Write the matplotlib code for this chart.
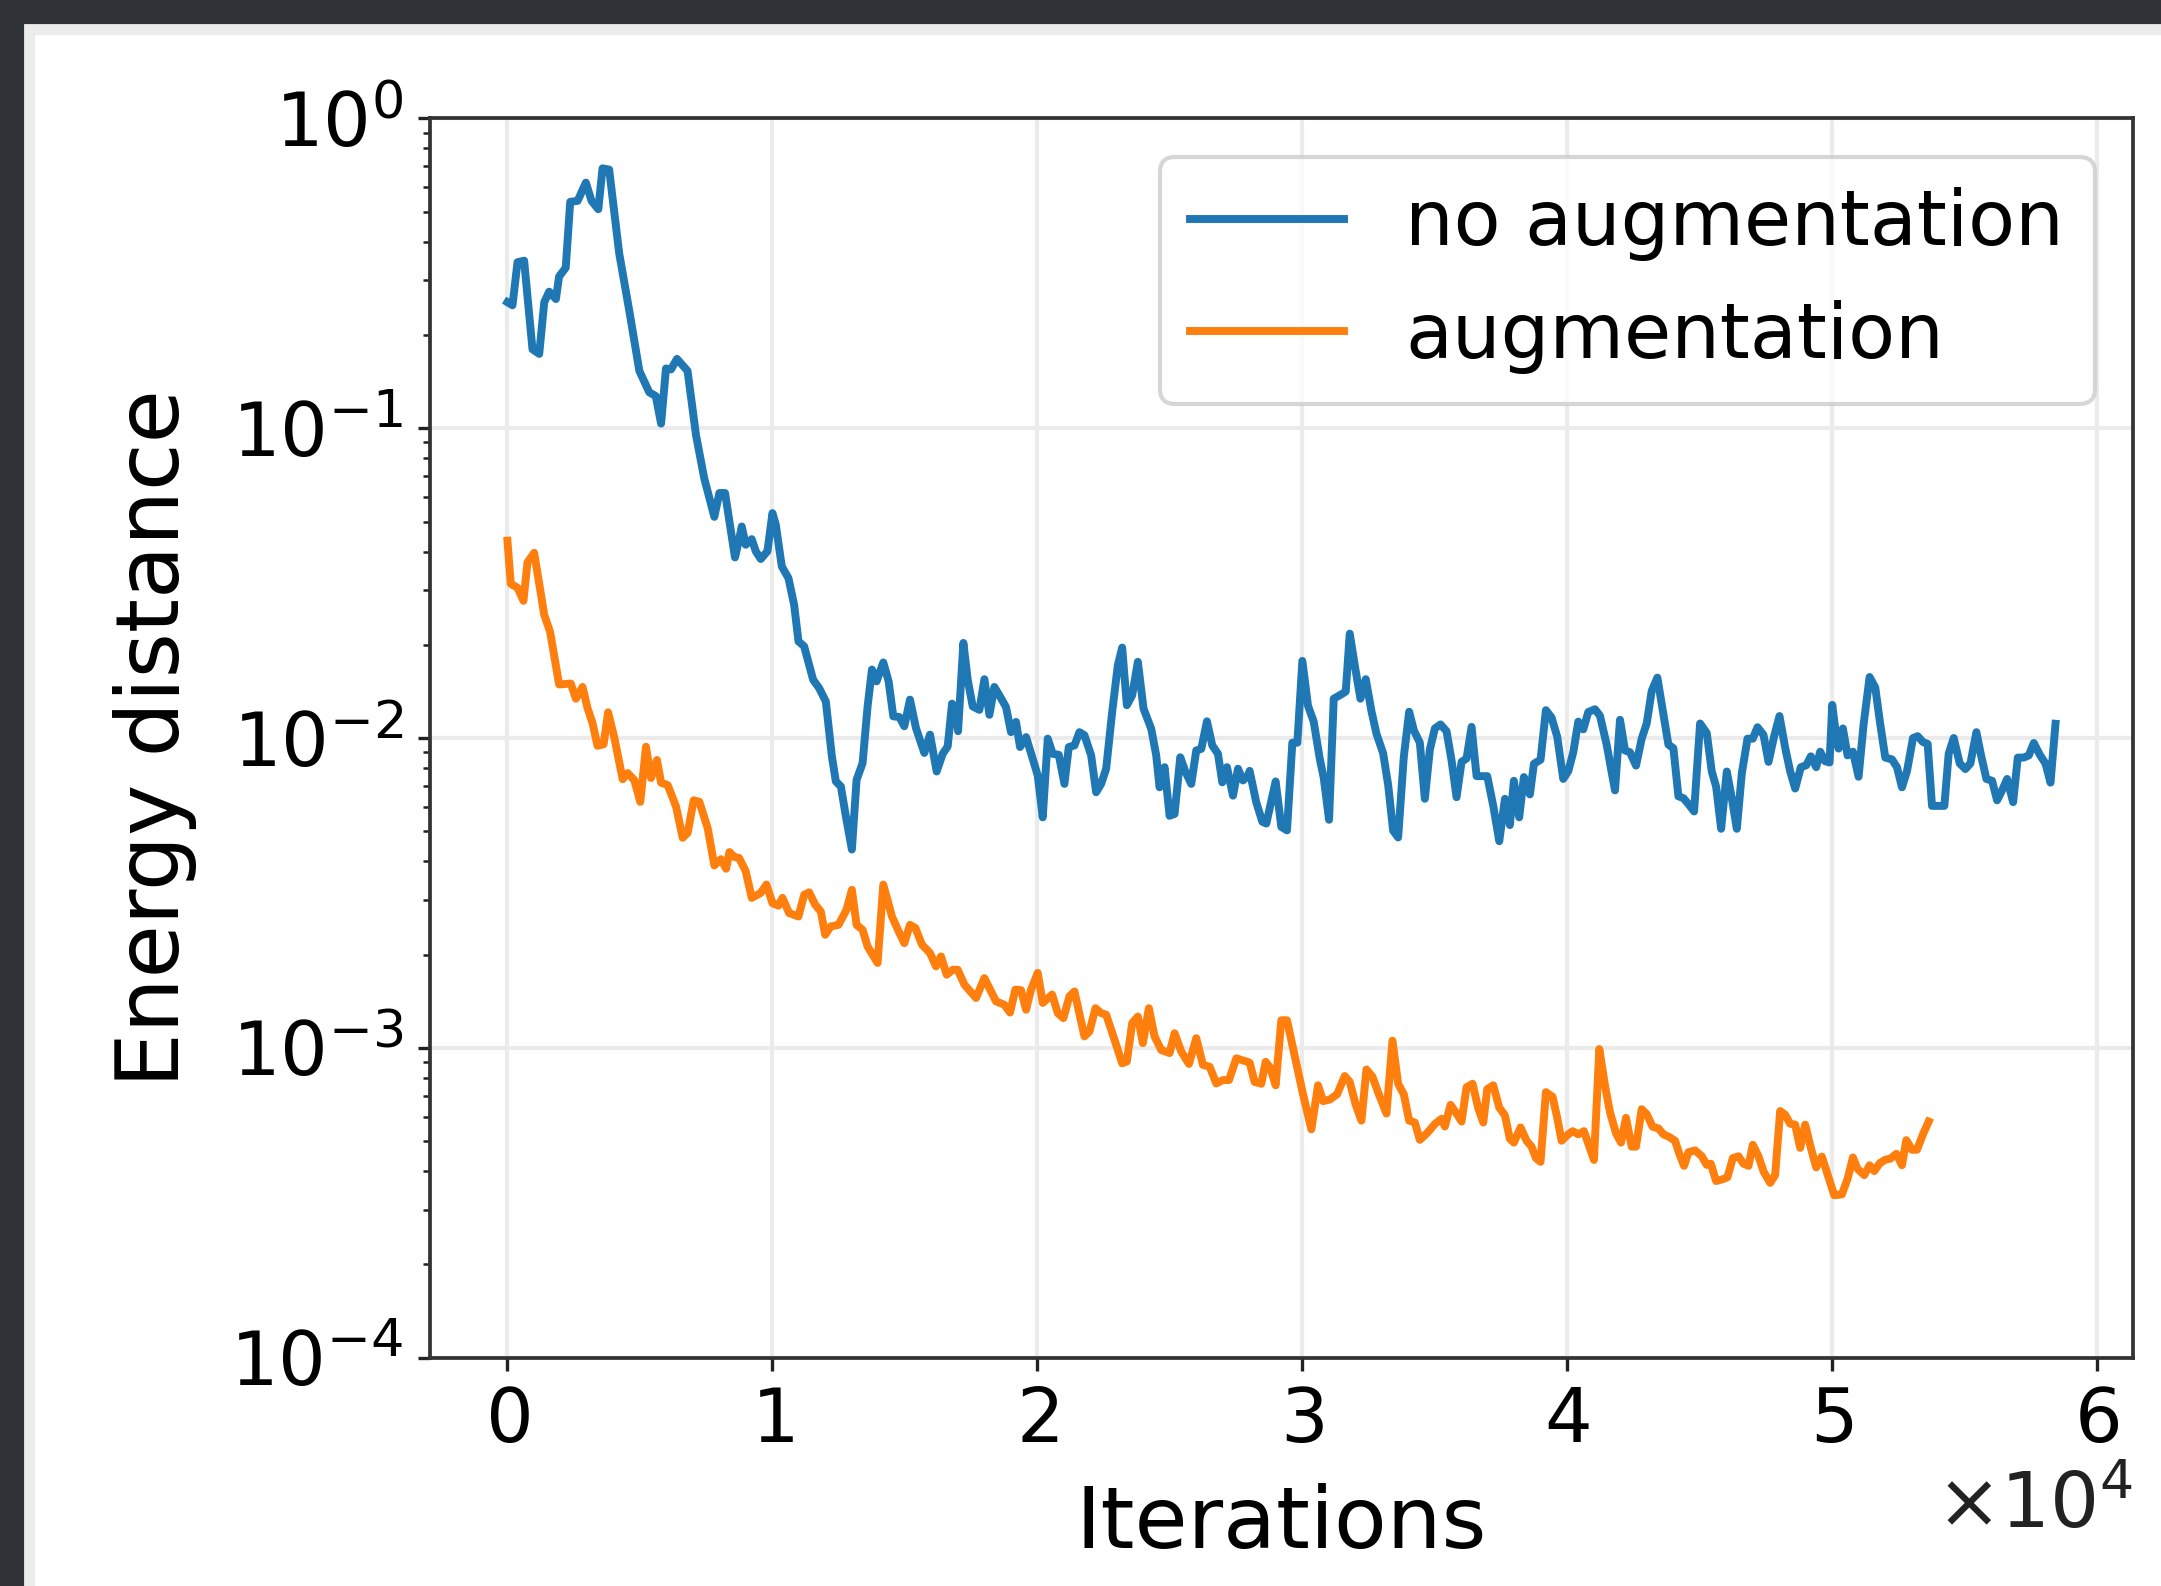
import matplotlib
matplotlib.use("Agg")
import matplotlib.pyplot as plt
from matplotlib.patches import Rectangle
import numpy as np

# energy distance logged during training, stored as log10 values
iters_no_aug = [
    0, 190, 380, 630, 945, 1200, 1390, 1575, 1830, 1950, 2200, 2370, 2650, 2960, 3175, 3430,
    3590, 3840, 4220, 4600, 4980, 5355, 5600, 5800, 5985, 6175, 6400, 6800, 7120, 7430, 7810,
    8000, 8215, 8590,
    8745, 8845, 8996, 9223, 9374, 9563, 9815, 10004, 10130, 10357, 10609, 10823, 10987, 11201,
    11541, 11768, 12020, 12247, 12398, 12587, 12776, 13003, 13180, 13407, 13596, 13760, 13936,
    14188, 14390, 14566, 14793, 14982, 15196, 15423, 15738, 15952, 16204, 16431, 16620, 16784,
    16935, 17011, 17212, 17376, 17565, 17817, 18006, 18195,
    18381, 18570, 18822, 19010, 19199, 19351, 19578, 19830, 20019, 20208, 20397, 20586, 20813,
    21027, 21191, 21405, 21594, 21783, 22035, 22224, 22413, 22602, 22829, 23043, 23207, 23383,
    23585, 23799, 24013, 24303, 24492, 24618, 24807, 24996, 25185, 25399, 25601, 25815, 26004,
    26193, 26407, 26609, 26823, 26987, 27163, 27390, 27579, 27768, 27957,
    28018, 28270, 28497, 28648, 29001, 29215, 29429, 29631, 29820, 30009, 30223, 30437, 30664,
    30815, 31017, 31193, 31420, 31647, 31798, 31987, 32201, 32403, 32617, 32806, 33058, 33247,
    33436, 33625, 33839, 34041, 34217, 34444, 34633, 34822, 35011, 35225, 35452, 35641, 35830,
    36019, 36208, 36397, 36586, 36775, 36989, 37216, 37442, 37657,
    37843, 37994, 38195, 38372, 38599, 38750, 39001, 39203, 39417, 39631, 39858, 40047, 40236,
    40425, 40614, 40803, 41055, 41244, 41496, 41811, 42000, 42189, 42378, 42605, 42819, 43008,
    43197, 43411, 43613, 43827, 44016, 44205, 44394, 44583, 44797, 45024, 45276, 45465, 45629,
    45818, 46032, 46221, 46410, 46599, 46813, 47014, 47191, 47418, 47607,
    47820, 48021, 48235, 48424, 48613, 48827, 49029, 49205, 49407, 49558, 49747, 49911, 50012,
    50125, 50251, 50415, 50591, 50793, 51007, 51196, 51423, 51637, 51826, 52015, 52267, 52456,
    52645, 52834, 53061, 53237, 53439, 53615, 53779, 54031, 54245, 54409, 54598, 54825, 55039,
    55228, 55455, 55631, 55833, 56047, 56236, 56425, 56614, 56841, 57017, 57244, 57433, 57622,
    57849, 58063, 58252, 58441,
]
log_no_aug = [
    -0.593, -0.603, -0.464, -0.459, -0.745, -0.760, -0.593, -0.559, -0.583, -0.510, -0.482,
    -0.269, -0.266, -0.207, -0.266, -0.293, -0.161, -0.165, -0.436, -0.621, -0.815, -0.884,
    -0.896, -0.985, -0.807, -0.810, -0.776, -0.815, -1.023, -1.162, -1.286, -1.209, -1.209,
    -1.417,
    -1.360, -1.317, -1.376, -1.358, -1.397, -1.422, -1.397, -1.274, -1.311, -1.446, -1.484,
    -1.570, -1.688, -1.704, -1.812, -1.839, -1.882, -2.059, -2.140, -2.156, -2.253, -2.360,
    -2.135, -2.081, -1.898, -1.779, -1.817, -1.756, -1.817, -1.930, -1.932, -1.962, -1.876,
    -1.968, -2.048, -1.989, -2.108, -2.051, -2.027, -1.889, -1.919, -1.978, -1.693, -1.812,
    -1.898, -1.909, -1.810, -1.925,
    -1.835, -1.862, -1.900, -1.981, -1.948, -2.029, -1.997, -2.067, -2.121, -2.256, -2.002,
    -2.051, -2.054, -2.148, -2.029, -2.024, -1.981, -1.991, -2.056, -2.175, -2.148, -2.099,
    -1.916, -1.765, -1.708, -1.894, -1.862, -1.754, -1.905, -1.970, -2.056, -2.159, -2.094,
    -2.251, -2.245, -2.062, -2.110, -2.148, -2.040, -2.035, -1.946, -2.024, -2.051, -2.143,
    -2.094, -2.186, -2.099, -2.137, -2.121,
    -2.106, -2.208, -2.270, -2.276, -2.140, -2.287, -2.298, -2.015, -2.015, -1.751, -1.896,
    -1.947, -2.066, -2.128, -2.264, -1.873, -1.862, -1.850, -1.663, -1.765, -1.873, -1.810,
    -1.913, -1.986, -2.049, -2.151, -2.299, -2.321, -2.060, -1.915, -1.975, -2.015, -2.196,
    -2.037, -1.969, -1.956, -1.978, -2.072, -2.191, -2.077, -2.066, -1.964, -2.123, -2.123,
    -2.123, -2.219, -2.333, -2.196,
    -2.281, -2.138, -2.256, -2.126, -2.182, -2.083, -2.070, -1.910, -1.934, -1.996, -2.132,
    -2.107, -2.046, -1.947, -1.972, -1.916, -1.907, -1.928, -2.021, -2.169, -1.941, -2.040,
    -2.046, -2.089, -2.002, -1.953, -1.848, -1.805, -1.910, -2.021, -2.033, -2.188, -2.194,
    -2.213, -2.237, -1.953, -1.984, -2.108, -2.157, -2.293, -2.108, -2.194, -2.293, -2.114,
    -2.002, -2.002, -1.965, -1.990, -2.077,
    -1.994, -1.929, -2.031, -2.107, -2.163, -2.094, -2.088, -2.059, -2.094, -2.044, -2.075,
    -2.079, -1.893, -1.969, -2.034, -1.969, -2.056, -2.044, -2.125, -1.956, -1.803, -1.837,
    -1.956, -2.063, -2.069, -2.094, -2.159, -2.107, -2.000, -1.994, -2.013, -2.019, -2.219,
    -2.219, -2.219, -2.050, -2.000, -2.082, -2.100, -2.082, -1.981, -2.056, -2.132, -2.138,
    -2.201, -2.169, -2.132, -2.207, -2.063, -2.063, -2.056, -2.016, -2.054, -2.082, -2.144,
    -1.954,
]

iters_aug = [
    0, 126, 380, 605, 756, 1010, 1390, 1610, 1950, 2390, 2585, 2835, 3025, 3210, 3400, 3630,
    3800, 4030, 4350, 4540, 4790, 5015, 5230, 5420, 5645, 5800, 6050, 6365, 6615, 6805, 7030,
    7245, 7560, 7810, 8060, 8255, 8380, 8570,
    8745, 8996, 9223, 9563, 9777, 10004, 10231, 10382, 10634, 10987, 11201, 11390, 11617,
    11831, 11995, 12209, 12499, 12801, 13003, 13180, 13407, 13596, 13974, 14188, 14516, 14768,
    14982, 15196, 15398, 15650, 15952, 16179, 16368, 16582, 16809, 16998, 17250, 17691, 18006,
    18444, 18759, 18973, 19174, 19388, 19578, 19767, 20019, 20208, 20561, 20775, 20989, 21216,
    21405, 21783, 21972, 22199, 22413, 22602, 22917, 23207, 23383, 23585, 23799, 23988, 24215,
    24429, 24681, 24996, 25185, 25437, 25727, 26004, 26256, 26508, 26760, 27012, 27239, 27516,
    27894,
    28018, 28207, 28459, 28623, 28800, 29001, 29215, 29429, 29719, 30034, 30349, 30601, 30790,
    31042, 31319, 31609, 31798, 32024, 32239, 32428, 32655, 32869, 33184, 33411, 33625, 33839,
    34041, 34255, 34444, 34721, 35011, 35263, 35389, 35603, 35830, 36019, 36208, 36435, 36649,
    36838, 36989, 37216, 37442, 37657,
    37843, 37994, 38246, 38473, 38662, 38826, 39001, 39203, 39455, 39631, 39795, 40047, 40211,
    40425, 40639, 40866, 41017, 41219, 41433, 41622, 41849, 42038, 42227, 42441, 42605, 42819,
    43008, 43235, 43449, 43638, 43865, 44079, 44243, 44419, 44583, 44835, 45087, 45276, 45427,
    45629, 45881, 46057, 46259, 46473, 46662, 46851, 47014, 47229, 47418,
    47668, 47857, 48046, 48235, 48424, 48613, 48802, 48991, 49205, 49407, 49621, 49835, 50087,
    50377, 50591, 50793, 50969, 51221, 51423, 51599, 51801, 52015, 52204, 52431, 52645, 52808,
    53023, 53212, 53439, 53653,
]
log_aug = [
    -1.363, -1.502, -1.515, -1.557, -1.433, -1.402, -1.603, -1.657, -1.827, -1.824, -1.873,
    -1.835, -1.904, -1.951, -2.025, -2.020, -1.917, -1.997, -2.133, -2.113, -2.136, -2.206,
    -2.028, -2.129, -2.071, -2.144, -2.152, -2.221, -2.322, -2.306, -2.201, -2.206, -2.291,
    -2.411, -2.391, -2.422, -2.368, -2.384,
    -2.387, -2.430, -2.516, -2.500, -2.473, -2.533, -2.541, -2.516, -2.565, -2.576, -2.506,
    -2.498, -2.538, -2.560, -2.635, -2.608, -2.603, -2.554, -2.490, -2.603, -2.619, -2.673,
    -2.726, -2.473, -2.576, -2.624, -2.662, -2.603, -2.613, -2.667, -2.694, -2.737, -2.705,
    -2.764, -2.748, -2.748, -2.796, -2.839, -2.775,
    -2.850, -2.861, -2.886, -2.812, -2.814, -2.877, -2.812, -2.758, -2.855, -2.828, -2.888,
    -2.904, -2.834, -2.818, -2.963, -2.947, -2.872, -2.888, -2.893, -2.974, -3.050, -3.044,
    -2.920, -2.899, -2.985, -2.872, -2.963, -3.007, -3.017, -2.953, -3.012, -3.052, -2.969,
    -3.055, -3.061, -3.115, -3.104, -3.104, -3.034, -3.044,
    -3.048, -3.110, -3.116, -3.045, -3.065, -3.121, -2.911, -2.911, -3.025, -3.150, -3.263,
    -3.121, -3.172, -3.167, -3.150, -3.091, -3.110, -3.184, -3.235, -3.070, -3.093, -3.144,
    -3.212, -2.977, -3.116, -3.150, -3.235, -3.241, -3.297, -3.275, -3.246, -3.229, -3.254,
    -3.184, -3.212, -3.238, -3.127, -3.116, -3.195, -3.241, -3.133, -3.121, -3.193, -3.218,
    -3.294, -3.306, -3.257, -3.300, -3.319, -3.356, -3.368, -3.143, -3.158, -3.226, -3.300,
    -3.279, -3.269, -3.279, -3.269, -3.325, -3.362, -3.004, -3.121, -3.208, -3.276, -3.306,
    -3.226, -3.319, -3.319, -3.198, -3.214, -3.255, -3.260, -3.279, -3.288, -3.300, -3.343,
    -3.381, -3.337, -3.331, -3.350, -3.378, -3.374, -3.430, -3.424, -3.418, -3.356, -3.350,
    -3.374, -3.381, -3.313, -3.350, -3.399,
    -3.436, -3.411, -3.204, -3.216, -3.245, -3.248, -3.323, -3.248, -3.323, -3.386, -3.351,
    -3.408, -3.476, -3.473, -3.423, -3.354, -3.391, -3.411, -3.379, -3.398, -3.373, -3.361,
    -3.358, -3.342, -3.379, -3.298, -3.329, -3.329, -3.279, -3.238,
]

W, H = 2161, 1586
fig = plt.figure(figsize=(W / 300, H / 300), dpi=300)

# dark window border along the top and left edge
dark = "#2e3236"
fig.patches.append(Rectangle((0, 1 - 33 / H), 1, 33 / H, transform=fig.transFigure, color="#ececec", zorder=-2))
fig.patches.append(Rectangle((0, 0), 33 / W, 1, transform=fig.transFigure, color="#ececec", zorder=-2))
fig.patches.append(Rectangle((0, 1 - 22 / H), 1, 22 / H, transform=fig.transFigure, color=dark, zorder=-1))
fig.patches.append(Rectangle((0, 0), 22 / W, 1, transform=fig.transFigure, color=dark, zorder=-1))

ax = fig.add_axes([0.199, 0.144, 0.788, 0.7813])

ax.plot(iters_no_aug, 10 ** np.array(log_no_aug), color="#1f77b4", linewidth=1.9, label="no augmentation")
ax.plot(iters_aug, 10 ** np.array(log_aug), color="#ff7f0e", linewidth=1.9, label="augmentation")

ax.set_yscale("log")
ax.set_ylim(1e-4, 1)
ax.ticklabel_format(style="sci", axis="x", scilimits=(0, 0), useMathText=True)
ax.xaxis.get_offset_text().set_fontsize(18.5)

ax.set_xlabel("Iterations", fontsize=20.7, labelpad=6)
ax.set_ylabel("Energy distance", fontsize=20.8, labelpad=8)

ax.grid(True, which="major", color="#ebebeb", linewidth=1.0)
ax.tick_params(which="major", length=3, width=0.8, labelsize=18, colors="#222222", labelcolor="black")
ax.tick_params(which="minor", length=1.8, width=0.6, colors="#222222")
for s in ax.spines.values():
    s.set_linewidth(0.9)
    s.set_color("#333333")

ax.legend(loc="upper right", fontsize=18.4)

fig.savefig("out.png", dpi=300)
